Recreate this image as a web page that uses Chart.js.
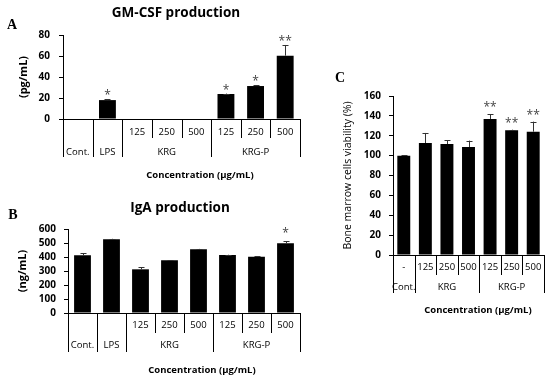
<!DOCTYPE html>
<html>
<head>
<meta charset="utf-8">
<script src="https://cdn.jsdelivr.net/npm/chart.js@4.4.0/dist/chart.umd.min.js"></script>
<style>
body { margin: 0; background: #fff; }
#wrap { position: relative; width: 550px; height: 380px; }
canvas { position: absolute; }
</style>
</head>
<body>
<div id="wrap">
  <canvas id="chA" width="330" height="190" style="left:0;top:0"></canvas>
  <canvas id="chB" width="330" height="190" style="left:0;top:190px"></canvas>
  <canvas id="chC" width="220" height="270" style="left:330px;top:60px"></canvas>
</div>
<script>
// A - GM-CSF production (pg/mL)
var gmGroups = ['Cont.', 'LPS', 'KRG', 'KRG', 'KRG', 'KRG-P', 'KRG-P', 'KRG-P'];
var gmDoses = ['', '', '125', '250', '500', '125', '250', '500'];
var gmValues = [0, 18, 0, 0, 0, 23.8, 31.4, 60.3];
var gmErrors = [0, 0.8, 0, 0, 0, 0.4, 0.6, 10.2];
var gmStars = ['', '*', '', '', '', '*', '*', '**'];
var gmTicks = [0, 20, 40, 60, 80];

// B - IgA production (ng/mL)
var igaGroups = ['Cont.', 'LPS', 'KRG', 'KRG', 'KRG', 'KRG-P', 'KRG-P', 'KRG-P'];
var igaDoses = ['', '', '125', '250', '500', '125', '250', '500'];
var igaValues = [412, 526, 312, 376, 455, 414, 402, 498];
var igaErrors = [15, 4, 14, 2, 3, 2, 2, 14];
var igaStars = ['', '', '', '', '', '', '', '*'];
var igaTicks = [0, 100, 200, 300, 400, 500, 600];

// C - bone marrow cells viability (%)
var bmGroups = ['Cont.', 'KRG', 'KRG', 'KRG', 'KRG-P', 'KRG-P', 'KRG-P'];
var bmDoses = ['-', '125', '250', '500', '125', '250', '500'];
var bmValues = [100, 112.7, 111.7, 108.7, 136.9, 125.5, 124.1];
var bmErrors = [0.3, 10.1, 4, 6.4, 5, 0.6, 10.1];
var bmStars = ['', '', '', '', '**', '**', '**'];
var bmTicks = [0, 20, 40, 60, 80, 100, 120, 140, 160];

var FONT = 'Open Sans';

// error bars, stars, category table and titles
var figurePlugin = {
  id: 'figure',
  afterDatasetsDraw: function (chart, args, o) {
    var ctx = chart.ctx, x = chart.scales.x, y = chart.scales.y;
    var data = chart.data.datasets[0].data;
    var n = o.groups.length;
    ctx.save();

    chart.getDatasetMeta(0).data.forEach(function (bar, i) {
      var top = y.getPixelForValue(data[i] + o.errors[i]);
      if (o.errors[i] > 0) {
        var bx = Math.round(bar.x) + 0.5;
        ctx.strokeStyle = '#333';
        ctx.lineWidth = 1;
        ctx.beginPath();
        ctx.moveTo(bx, y.getPixelForValue(data[i]));
        ctx.lineTo(bx, top);
        ctx.moveTo(bx - 3, Math.round(top) + 0.5);
        ctx.lineTo(bx + 3, Math.round(top) + 0.5);
        ctx.stroke();
      }
      if (o.stars[i]) {
        ctx.fillStyle = '#444';
        ctx.font = '12px "' + FONT + '"';
        ctx.textAlign = 'center';
        ctx.textBaseline = 'alphabetic';
        ctx.fillText(o.stars[i], bar.x, top - o.starGap);
      }
    });

    // separators under the axis
    ctx.strokeStyle = '#000';
    ctx.lineWidth = 1;
    for (var i = 0; i <= n; i++) {
      var px = Math.round(x.getPixelForValue(i - 0.5)) + 0.5;
      var edge = i === 0 || i === n || o.groups[i] !== o.groups[i - 1];
      ctx.beginPath();
      ctx.moveTo(px, x.top);
      ctx.lineTo(px, edge ? o.longEnd : o.shortEnd);
      ctx.stroke();
    }

    ctx.fillStyle = '#000';
    ctx.textAlign = 'center';
    ctx.textBaseline = 'middle';
    ctx.font = '9.5px "' + FONT + '"';
    for (i = 0; i < n; i++) {
      if (o.doses[i]) ctx.fillText(o.doses[i], x.getPixelForValue(i), o.row1Y);
    }
    var start = 0;
    for (i = 1; i <= n; i++) {
      if (i === n || o.groups[i] !== o.groups[start]) {
        var cx = (x.getPixelForValue(start - 0.5) + x.getPixelForValue(i - 0.5)) / 2;
        ctx.fillText(o.groups[start], cx, o.row2Y);
        start = i;
      }
    }

    ctx.font = 'bold 9.5px "' + FONT + '"';
    ctx.fillText('Concentration (\u03bcg/mL)', o.xTitleX, o.xTitleY);

    if (o.title) {
      ctx.font = 'bold 13.5px "' + FONT + '"';
      ctx.fillText(o.title, o.titleX, o.titleY);
    }

    ctx.font = 'bold 14px "Liberation Serif"';
    ctx.fillText(o.letter, o.letterX, o.letterY);
    ctx.restore();
  }
};

function makeChart(id, groups, doses, values, errors, stars, yTicks, cfg) {
  return new Chart(document.getElementById(id), {
    type: 'bar',
    data: {
      labels: groups.map(function (g, i) { return g + ' ' + doses[i]; }),
      datasets: [{
        data: values,
        backgroundColor: '#000',
        borderWidth: 0,
        barPercentage: cfg.barPct,
        categoryPercentage: 1
      }]
    },
    options: {
      responsive: false,
      animation: false,
      events: [],
      layout: { padding: { left: 0, right: cfg.padRight, top: cfg.padTop, bottom: 0 } },
      plugins: {
        legend: { display: false },
        tooltip: { enabled: false },
        figure: {
          groups: groups, doses: doses, errors: errors, stars: stars,
          starGap: cfg.starGap,
          row1Y: cfg.row1Y, row2Y: cfg.row2Y, shortEnd: cfg.shortEnd, longEnd: cfg.longEnd,
          xTitleX: cfg.xTitleX, xTitleY: cfg.xTitleY,
          title: cfg.title, titleX: cfg.titleX, titleY: cfg.titleY,
          letter: cfg.letter, letterX: cfg.letterX, letterY: cfg.letterY
        }
      },
      scales: {
        x: {
          ticks: { display: false },
          grid: { display: false },
          border: { display: true, color: '#000' },
          afterFit: function (s) { s.height = cfg.xHeight; }
        },
        y: {
          min: yTicks[0],
          max: yTicks[yTicks.length - 1],
          ticks: {
            stepSize: yTicks[1] - yTicks[0],
            autoSkip: false,
            color: '#000',
            padding: cfg.tickPad,
            font: { family: FONT, size: 10, weight: 'bold' }
          },
          grid: { drawOnChartArea: false, drawTicks: true, tickLength: 4, color: '#000' },
          border: { display: true, color: '#000' },
          title: {
            display: true,
            text: cfg.yTitle,
            color: '#000',
            font: { family: FONT, size: cfg.yTitleSize, weight: cfg.yTitleWeight },
            padding: { top: cfg.yTitlePad, bottom: 0 }
          },
          afterFit: function (s) { s.width = cfg.yWidth; }
        }
      }
    },
    plugins: [figurePlugin]
  });
}

makeChart('chA', gmGroups, gmDoses, gmValues, gmErrors, gmStars, gmTicks, {
  barPct: 0.57, padTop: 35, padRight: 30, xHeight: 71, yWidth: 63, tickPad: 9,
  yTitle: '(pg/mL)', yTitleSize: 11, yTitleWeight: 'bold', yTitlePad: 17,
  starGap: 0, row1Y: 132, row2Y: 152, shortEnd: 138, longEnd: 157,
  xTitleX: 200, xTitleY: 175,
  title: 'GM-CSF production', titleX: 176, titleY: 13,
  letter: 'A', letterX: 12, letterY: 25
});

makeChart('chB', igaGroups, igaDoses, igaValues, igaErrors, igaStars, igaTicks, {
  barPct: 0.58, padTop: 39, padRight: 30, xHeight: 67, yWidth: 68, tickPad: 8,
  yTitle: '(ng/mL)', yTitleSize: 11, yTitleWeight: 'bold', yTitlePad: 16,
  starGap: 4, row1Y: 135, row2Y: 155, shortEnd: 143, longEnd: 162,
  xTitleX: 202, xTitleY: 180,
  title: 'IgA production', titleX: 180, titleY: 18,
  letter: 'B', letterX: 13, letterY: 25
});

makeChart('chC', bmGroups, bmDoses, bmValues, bmErrors, bmStars, bmTicks, {
  barPct: 0.6, padTop: 36, padRight: 6, xHeight: 75, yWidth: 63, tickPad: 8,
  yTitle: 'Bone marrow cells viability (%)', yTitleSize: 10.5, yTitleWeight: 'normal', yTitlePad: 12,
  starGap: 3, row1Y: 207, row2Y: 227, shortEnd: 215, longEnd: 233,
  xTitleX: 148, xTitleY: 250,
  title: '', titleX: 0, titleY: 0,
  letter: 'C', letterX: 10, letterY: 18
});
</script>
</body>
</html>
